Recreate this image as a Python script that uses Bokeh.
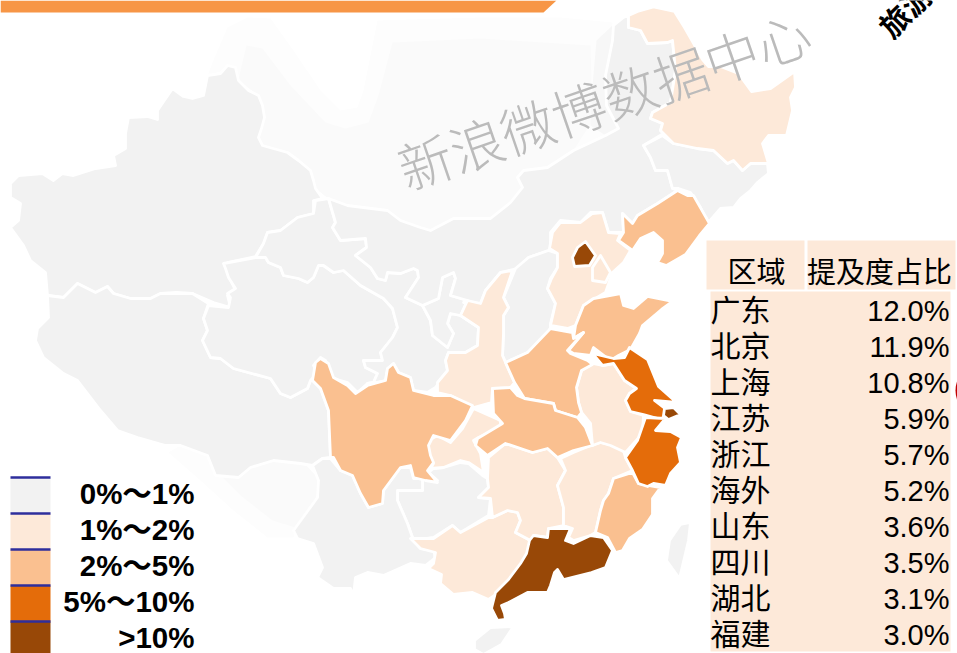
from bokeh.plotting import figure
from bokeh.embed import file_html
from bokeh.resources import INLINE
from bokeh.core.properties import value
from bokeh.models import Range1d
import math

# ---------- table ----------
regions = ["广东", "北京", "上海", "江苏", "浙江", "海外", "山东", "四川", "湖北", "福建"]
shares = ["12.0%", "11.9%", "10.8%", "5.9%", "5.7%", "5.2%", "3.6%", "3.5%", "3.1%", "3.0%"]
table_head = ["区域", "提及度占比"]

# ---------- legend ----------
legend_labels = ["0%～1%", "1%～2%", "2%～5%", "5%～10%", ">10%"]
legend_colors = ["#f2f2f2", "#fde9d9", "#fac090", "#e46c0a", "#984807"]

watermark = "新浪微博数据中心"
cut_title = "旅游"

# ---------- traced outlines ----------
mongolia = [(200,95),(212,62),(227,27),(247,17),(270,18),(293,50),(320,90),(340,110),(357,107),(363,90),(377,20),(480,17),(560,17),(612,22),(606,70),(606,105),(618,128),(605,135),(573,150),(547,167),(523,170),(517,177),(522,187),(510,202),(490,218),(453,218),(430,230),(420,227),(400,220),(387,210),(347,205),(328,198),(315,188),(310,170),(287,152),(262,145),(258,137),(264,117),(258,95),(238,80),(235,67),(207,75)]
mongolia_core = [(240,70),(246,45),(262,48),(290,85),(325,122),(345,128),(368,122),(378,95),(392,42),(480,38),(590,45),(592,120),(573,150),(547,167),(523,170),(517,177),(522,187),(510,202),(490,218),(453,218),(430,230),(420,227),(400,220),(387,210),(347,205),(328,198),(315,188),(310,170),(287,152),(262,145),(258,137),(264,117),(258,95),(238,80)]
mongolia_edge = [(596,40),(612,25),(606,105),(618,128),(605,135),(590,125),(592,85)]
south_tibet_smear = [(168,452),(180,445),(207,455),(215,475),(238,477),(250,467),(273,460),(303,462),(317,477),(317,497),(295,527),(293,537),(267,537),(233,510),(200,480)]
south_tibet_core = [(207,455),(215,475),(238,477),(250,467),(273,460),(303,462),(317,477),(317,497),(295,527),(272,520),(240,495),(215,470)]
xinjiang = [(157,110),(172,88),(183,96),(192,98),(203,95),(207,75),(220,73),(227,65),(235,67),(238,80),(248,90),(258,95),(262,105),(264,117),(261,128),(258,137),(262,145),(287,152),(298,160),(310,170),(313,180),(315,188),(322,198),(313,200),(313,213),(297,217),(280,230),(267,232),(263,243),(255,256),(227,262),(227,273),(235,290),(227,295),(230,307),(213,302),(192,293),(176,292),(160,293),(150,298),(130,298),(113,293),(107,286),(95,292),(77,283),(63,297),(47,295),(45,272),(30,260),(23,245),(10,227),(18,220),(20,203),(10,197),(10,183),(18,175),(42,173),(53,180),(62,173),(73,175),(95,168),(115,165),(113,155),(125,148),(125,133),(128,117),(147,116),(157,119)]
tibet = [(47,295),(63,297),(77,283),(95,292),(107,286),(113,293),(130,298),(150,298),(160,293),(192,293),(208,303),(203,318),(207,330),(202,340),(210,357),(220,358),(233,368),(270,378),(280,393),(290,397),(307,388),(310,380),(317,372),(313,365),(320,357),(315,362),(312,380),(320,388),(328,410),(330,457),(322,458),(312,465),(300,463),(273,460),(250,467),(238,477),(215,475),(207,455),(180,445),(165,445),(137,437),(117,430),(100,410),(77,380),(63,373),(43,357),(35,340),(37,328),(48,317)]
qinghai = [(223,263),(255,257),(265,257),(268,262),(280,267),(283,275),(298,278),(307,282),(313,277),(318,265),(323,265),(333,272),(343,270),(360,285),(383,298),(392,308),(397,327),(392,337),(380,352),(382,360),(363,360),(365,367),(377,373),(373,382),(367,383),(357,392),(347,382),(333,378),(325,360),(320,357),(313,365),(317,372),(310,380),(307,388),(290,397),(280,393),(270,378),(233,368),(220,358),(210,357),(202,340),(207,330),(203,318),(208,305),(228,307),(230,297),(227,293),(235,288),(228,277),(225,268)]
gansu = [(315,200),(328,198),(335,222),(332,227),(340,240),(365,238),(366,247),(355,255),(370,267),(377,278),(385,280),(387,272),(400,273),(413,268),(417,270),(418,277),(405,297),(422,305),(430,320),(432,335),(447,347),(453,333),(447,323),(450,313),(460,315),(478,327),(477,345),(465,352),(448,352),(445,360),(447,370),(435,387),(427,392),(413,390),(410,377),(398,372),(393,363),(387,368),(385,380),(370,383),(367,383),(373,382),(377,373),(365,367),(363,360),(382,360),(380,352),(392,337),(397,327),(392,308),(383,298),(360,285),(343,270),(333,272),(323,265),(318,265),(313,277),(307,282),(298,278),(283,275),(280,267),(268,262),(265,257),(255,257),(263,243),(267,232),(280,230),(297,217),(313,213)]
ningxia = [(422,305),(438,298),(442,277),(453,272),(455,278),(450,295),(467,300),(460,315),(450,313),(447,323),(453,333),(447,347),(432,335),(430,320)]
inner_mongolia = [(328,198),(347,205),(387,210),(400,220),(420,227),(430,230),(453,218),(490,218),(510,202),(522,187),(517,177),(523,170),(547,167),(573,150),(605,135),(618,128),(606,105),(605,75),(612,40),(613,25),(623,17),(628,15),(628,27),(640,30),(647,43),(667,42),(672,40),(675,70),(670,102),(652,112),(650,118),(662,123),(660,130),(663,133),(643,145),(650,157),(655,170),(667,170),(672,188),(677,190),(657,203),(637,215),(632,223),(622,213),(623,232),(608,232),(602,212),(590,212),(580,222),(560,220),(550,232),(550,245),(557,252),(548,250),(528,257),(517,268),(500,272),(485,290),(480,303),(463,302),(467,300),(450,295),(455,278),(453,272),(442,277),(438,298),(422,305),(405,297),(418,277),(417,270),(413,268),(400,273),(387,272),(385,280),(377,278),(370,267),(355,255),(366,247),(365,238),(340,240),(332,227),(335,222)]
jilin = [(643,145),(662,135),(673,143),(697,148),(713,150),(727,163),(733,160),(742,170),(750,163),(767,163),(768,173),(757,182),(750,190),(740,198),(733,207),(720,208),(707,223),(700,207),(690,192),(678,188),(672,188),(667,170),(655,170),(650,157)]
shanxi = [(515,268),(528,257),(548,250),(557,253),(557,267),(550,278),(547,288),(555,303),(550,323),(550,327),(543,342),(527,352),(505,362),(502,355),(503,333),(503,315),(508,307),(503,297)]
guizhou = [(460,462),(443,467),(433,468),(428,472),(437,480),(422,478),(422,490),(397,490),(397,500),(407,523),(413,540),(433,537),(452,525),(460,532),(488,515),(490,498),(478,497),(488,487),(487,478),(482,475),(468,463)]
yunnan = [(322,458),(330,458),(340,470),(352,475),(360,493),(368,507),(382,503),(383,490),(400,467),(410,467),(413,478),(422,478),(422,490),(397,490),(397,500),(407,523),(413,540),(420,548),(433,550),(435,557),(425,565),(410,563),(383,575),(367,572),(355,577),(353,595),(350,588),(333,588),(317,577),(322,567),(313,543),(297,538),(293,530),(317,497),(318,480),(312,465)]
taiwan = [(690,522),(688,540),(679,578),(666,560),(669,540),(680,524)]
hainan = [(474,640),(490,627),(513,626),(501,644),(483,654),(474,649)]

heilongjiang = [(628,15),(637,11),(653,6.5),(674,11),(684,27),(692,41),(702,59),(708,66),(720,66),(738,73),(751,91),(770,88),(794,71),(795,87),(790,97),(792,110),(786,135),(768,135),(762,143),(768,163),(750,163),(742,170),(733,160),(727,163),(713,150),(697,148),(673,143),(663,133),(660,130),(662,123),(650,118),(652,112),(670,102),(675,70),(672,40),(667,42),(647,43),(640,30),(628,27)]
hebei = [(552,232),(560,222),(580,222),(592,213),(602,212),(608,232),(620,233),(617,240),(630,250),(623,262),(612,272),(605,292),(583,305),(575,325),(567,328),(550,325),(555,303),(547,288),(551,278),(557,267),(557,253),(549,248)]
tianjin = [(592,267),(600,255),(610,272),(605,282),(592,280)]
shaanxi = [(500,272),(512,270),(503,297),(508,307),(503,315),(503,333),(502,355),(505,362),(514,382),(510,387),(492,388),(491,402),(473,407),(450,395),(437,392),(437,382),(447,370),(445,360),(448,352),(465,352),(477,345),(478,327),(460,315),(467,300),(480,303),(485,290)]
chongqing = [(473,408),(500,420),(500,427),(478,437),(473,440),(480,453),(483,472),(468,462),(460,460),(443,467),(430,468),(433,463),(428,455),(428,440),(437,435),(450,442),(462,428)]
guangxi = [(410,538),(433,538),(452,525),(460,532),(488,517),(492,517),(507,510),(517,512),(520,520),(515,532),(530,540),(528,553),(522,563),(523,570),(510,580),(497,593),(488,599),(472,592),(453,594),(440,583),(441,574),(428,568),(433,563),(435,552),(420,548)]
hunan = [(488,457),(505,443),(532,452),(547,448),(557,457),(565,470),(557,485),(563,507),(563,525),(548,528),(547,537),(533,535),(530,540),(515,532),(520,520),(517,512),(507,510),(492,517),(490,498),(478,497),(488,487),(487,478)]
jiangxi = [(560,458),(573,452),(590,445),(600,442),(613,445),(623,450),(625,457),(632,470),(613,478),(608,493),(603,500),(600,510),(595,532),(590,535),(573,540),(568,537),(572,528),(563,525),(563,507),(557,485),(565,470)]
anhui = [(576,387),(581,370),(592,363),(602,365),(613,363),(624,380),(636,388),(629,393),(625,400),(630,411),(643,415),(642,433),(625,452),(610,445),(600,442),(592,445),(590,423),(581,412),(578,402)]

sichuan = [(320,358),(328,363),(333,377),(347,385),(355,393),(367,385),(385,380),(387,368),(393,363),(398,372),(410,377),(413,390),(433,395),(450,395),(472,405),(465,420),(450,440),(433,435),(428,445),(430,455),(433,462),(427,470),(437,482),(425,480),(413,477),(410,465),(400,467),(383,490),(382,503),(368,507),(360,493),(352,475),(340,470),(333,457),(330,457),(328,410),(320,388),(312,380),(315,362)]
shandong = [(575,325),(583,305),(593,298),(620,293),(623,305),(633,308),(647,296),(672,301),(661,309),(642,325),(639,333),(630,349),(618,355),(610,360),(593,347),(590,355),(573,353),(568,350),(583,332),(573,338)]
henan = [(505,362),(527,352),(550,328),(572,332),(573,338),(583,332),(567,350),(570,353),(587,360),(592,364),(581,370),(576,387),(578,402),(581,412),(577,417),(555,410),(553,403),(524,398),(514,382)]
hubei = [(492,388),(510,387),(517,395),(524,398),(553,403),(555,410),(577,417),(585,427),(592,445),(573,450),(557,457),(547,448),(532,452),(505,443),(487,455),(475,445),(477,438),(502,423),(493,413)]
liaoning = [(677,190),(687,195),(693,195),(709,223),(699,235),(685,254),(666,265),(657,262),(662,253),(662,240),(653,232),(640,238),(632,250),(618,240),(623,232),(622,213),(632,223),(637,215),(657,203)]
fujian = [(632,472),(638,483),(660,487),(652,498),(652,514),(642,529),(629,538),(622,550),(615,552),(607,537),(595,532),(600,510),(603,500),(608,493),(613,478)]

jiangsu = [(592,353),(613,358),(624,357),(629,347),(647,359),(658,386),(676,402),(654,400),(667,410),(661,419),(643,414),(630,411),(625,400),(629,393),(636,388),(624,380),(613,363),(602,365)]
zhejiang = [(645,417),(665,418),(655,430),(670,431),(681,437),(677,447),(680,462),(670,473),(665,485),(653,483),(647,486),(638,483),(632,470),(625,457),(637,440)]

guangdong = [(533,535),(547,537),(548,528),(570,528),(565,540),(573,543),(590,535),(603,537),(612,550),(605,567),(591,572),(563,579),(557,569),(554,572),(550,585),(547,592),(527,592),(508,602),(501,605),(504,613),(505,619),(497,620),(491,608),(495,592),(508,579),(520,563),(526,553),(529,540)]
beijing = [(585,241),(595,255),(589,265),(574,266),(572,257),(577,247)]
shanghai = [(664,408),(673,407),(680,414),(668,419),(663,415)]

class_0_1 = [xinjiang, tibet, qinghai, gansu, ningxia, inner_mongolia, jilin, shanxi, guizhou, yunnan, taiwan, hainan]
class_1_2 = [heilongjiang, hebei, tianjin, shaanxi, chongqing, guangxi, hunan, jiangxi, anhui]
class_2_5 = [sichuan, shandong, henan, hubei, liaoning, fujian]
class_5_10 = [jiangsu, zhejiang]
class_10_up = [guangdong, beijing, shanghai]

top_bar = [(0,0),(556,0),(543,12),(0,12)]

p = figure(width=957, height=653, output_backend="svg", toolbar_location=None,
           x_range=Range1d(0, 957), y_range=Range1d(653, 0),
           min_border=0, outline_line_color=None,
           styles={"position": "absolute", "left": "0px", "top": "0px"})
p.axis.visible = False
p.grid.visible = False
p.background_fill_color = "#ffffff"
p.border_fill_color = "#ffffff"

def draw(shape, fill, line="#ffffff", width=2.8):
    p.patch([c[0] for c in shape], [c[1] for c in shape], fill_color=fill,
            line_color=line, line_width=width, line_join="round")

p.patch([c[0] for c in top_bar], [c[1] for c in top_bar], fill_color="#f79646", line_color=None)

draw(mongolia, "#fdfdfd", None, 0)
draw(mongolia_core, "#fafafa", None, 0)
draw(mongolia_edge, "#f7f7f7", None, 0)
draw(south_tibet_smear, "#fdfdfd", None, 0)
draw(south_tibet_core, "#fafafa", None, 0)
for group, col in zip([class_0_1, class_1_2, class_2_5, class_5_10, class_10_up], legend_colors):
    for shape in group:
        draw(shape, col)

# table
CELL = "#fde9d9"
p.quad(left=[706, 807], right=[804, 955], top=[240, 240], bottom=[289, 289], fill_color=CELL, line_color=None)
p.quad(left=[710], right=[950], top=[291], bottom=[651], fill_color=CELL, line_color=None)
FONT = value("Liberation Sans, Noto Sans CJK SC")
p.text([756, 879], [272, 272], text=table_head, text_font=FONT, text_font_size="29px",
       text_align="center", text_baseline="middle", text_color="#000000")
rows_y = [310 + 36 * i for i in range(len(regions))]
p.text([710] * len(regions), rows_y, text=regions, text_font=FONT, text_font_size="30px",
       text_align="left", text_baseline="middle", text_color="#000000")
p.text([949] * len(regions), rows_y, text=shares, text_font=FONT, text_font_size="29px",
       text_align="right", text_baseline="middle", text_color="#000000")

# legend
ly = [477 + 36 * i for i in range(len(legend_labels))]
p.quad(left=[10] * 5, right=[50] * 5, top=ly, bottom=[y + 36 for y in ly], fill_color=legend_colors, line_color=None)
p.segment(x0=[10] * 5, x1=[50] * 5, y0=ly, y1=ly, line_color="#2e2e9c", line_width=2.4)
p.text([194] * 5, [y + 16 for y in ly], text=legend_labels, text_font=FONT, text_font_size="29.5px",
       text_font_style="bold", text_align="right", text_baseline="middle", text_color="#000000")

# watermark and cut-off title
p.text([603], [98], text=[watermark], text_font=value("Noto Sans CJK SC Light, Noto Sans CJK SC"), text_font_size="54px",
       angle=[math.radians(19)], text_align="center", text_baseline="middle", text_color="#bbbbbb")
p.text([904], [9], text=[cut_title], text_font=value("Noto Sans CJK SC"), text_font_size="30px", text_font_style="bold",
       angle=[math.radians(45)], text_align="center", text_baseline="middle", text_color="#000000")

# red rim at the right edge
p.ellipse(x=[990], y=[390], width=[70], height=[62], fill_color="#c00000", line_color=None)

open("out.html", "w").write(file_html(p, INLINE))
